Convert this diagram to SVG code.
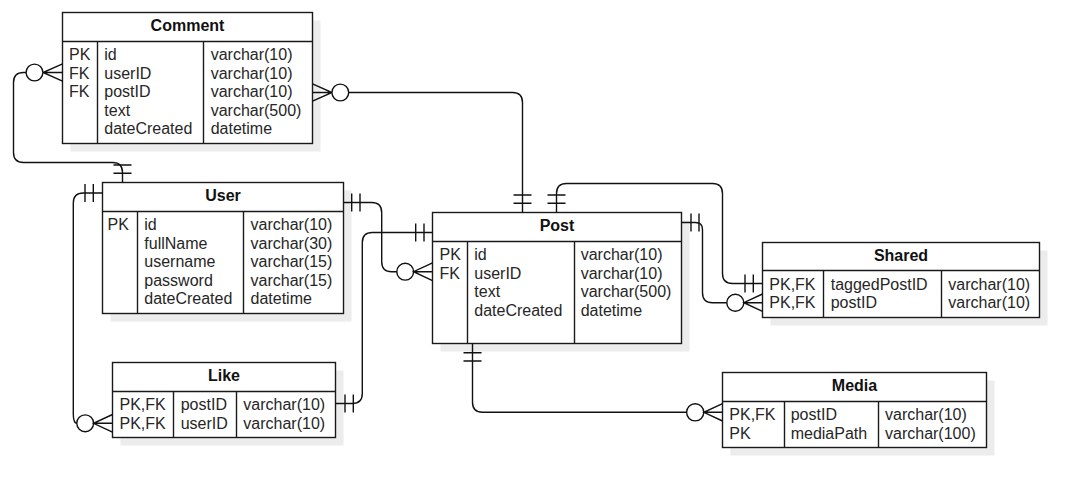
<svg xmlns="http://www.w3.org/2000/svg" width="1088" height="497" viewBox="0 0 1088 497">
  <style>
    .shadow { fill: #ececec; stroke: none; }
    .box { fill: #ffffff; stroke: #1a1a1a; stroke-width: 1.4; }
    .sep { stroke: #1a1a1a; stroke-width: 1.4; }
    .title { font-family: "Liberation Sans", Arial, sans-serif; font-size: 16px; font-weight: bold; fill: #111111; text-anchor: middle; }
    .cell { font-family: "Liberation Sans", Arial, sans-serif; font-size: 16px; fill: #262626; }
    .conn { fill: none; stroke: #111111; stroke-width: 1.4; }
    .ring { fill: #ffffff; stroke: #111111; stroke-width: 1.4; }
  </style>
  <rect width="1088" height="497" fill="#ffffff"/>

  <!-- Comment table -->
  <g id="comment">
    <rect class="shadow" x="70.5" y="20.5" width="250" height="131"/>
    <rect class="box" x="62.5" y="12.5" width="250" height="131"/>
    <line class="sep" x1="62.5" y1="41.5" x2="312.5" y2="41.5"/>
    <line class="sep" x1="97.5" y1="41.5" x2="97.5" y2="143.5"/>
    <line class="sep" x1="203.5" y1="41.5" x2="203.5" y2="143.5"/>
    <text class="title" x="187.5" y="31">Comment</text>
    <text class="cell" x="69" y="60">PK</text>
    <text class="cell" x="69" y="78.6">FK</text>
    <text class="cell" x="69" y="97.2">FK</text>
    <text class="cell" x="104.3" y="60">id</text>
    <text class="cell" x="104.3" y="78.6">userID</text>
    <text class="cell" x="104.3" y="97.2">postID</text>
    <text class="cell" x="104.3" y="115.8">text</text>
    <text class="cell" x="104.3" y="134.4">dateCreated</text>
    <text class="cell" x="210.7" y="60">varchar(10)</text>
    <text class="cell" x="210.7" y="78.6">varchar(10)</text>
    <text class="cell" x="210.7" y="97.2">varchar(10)</text>
    <text class="cell" x="210.7" y="115.8">varchar(500)</text>
    <text class="cell" x="210.7" y="134.4">datetime</text>
  </g>

  <!-- User table -->
  <g id="user">
    <rect class="shadow" x="110.5" y="190.5" width="241" height="131"/>
    <rect class="box" x="102.5" y="182.5" width="241" height="131"/>
    <line class="sep" x1="102.5" y1="211.5" x2="343.5" y2="211.5"/>
    <line class="sep" x1="137.5" y1="211.5" x2="137.5" y2="313.5"/>
    <line class="sep" x1="243.5" y1="211.5" x2="243.5" y2="313.5"/>
    <text class="title" x="223" y="201">User</text>
    <text class="cell" x="107.5" y="230">PK</text>
    <text class="cell" x="144.3" y="230">id</text>
    <text class="cell" x="144.3" y="248.6">fullName</text>
    <text class="cell" x="144.3" y="267.2">username</text>
    <text class="cell" x="144.3" y="285.8">password</text>
    <text class="cell" x="144.3" y="304.4">dateCreated</text>
    <text class="cell" x="250.5" y="230">varchar(10)</text>
    <text class="cell" x="250.5" y="248.6">varchar(30)</text>
    <text class="cell" x="250.5" y="267.2">varchar(15)</text>
    <text class="cell" x="250.5" y="285.8">varchar(15)</text>
    <text class="cell" x="250.5" y="304.4">datetime</text>
  </g>

  <!-- Post table -->
  <g id="post">
    <rect class="shadow" x="440.5" y="220.5" width="249" height="131"/>
    <rect class="box" x="432.5" y="212.5" width="249" height="131"/>
    <line class="sep" x1="432.5" y1="241.5" x2="681.5" y2="241.5"/>
    <line class="sep" x1="467.5" y1="241.5" x2="467.5" y2="343.5"/>
    <line class="sep" x1="574.5" y1="241.5" x2="574.5" y2="343.5"/>
    <text class="title" x="557" y="231.2">Post</text>
    <text class="cell" x="439.5" y="260">PK</text>
    <text class="cell" x="439.5" y="278.6">FK</text>
    <text class="cell" x="474.3" y="260">id</text>
    <text class="cell" x="474.3" y="278.6">userID</text>
    <text class="cell" x="474.3" y="297.2">text</text>
    <text class="cell" x="474.3" y="315.8">dateCreated</text>
    <text class="cell" x="580.7" y="260">varchar(10)</text>
    <text class="cell" x="580.7" y="278.6">varchar(10)</text>
    <text class="cell" x="580.7" y="297.2">varchar(500)</text>
    <text class="cell" x="580.7" y="315.8">datetime</text>
  </g>

  <!-- Shared table -->
  <g id="shared">
    <rect class="shadow" x="770.5" y="250.5" width="277" height="75"/>
    <rect class="box" x="762.5" y="242.5" width="277" height="75"/>
    <line class="sep" x1="762.5" y1="270.5" x2="1039.5" y2="270.5"/>
    <line class="sep" x1="823.5" y1="270.5" x2="823.5" y2="317.5"/>
    <line class="sep" x1="941.5" y1="270.5" x2="941.5" y2="317.5"/>
    <text class="title" x="901" y="260.7">Shared</text>
    <text class="cell" x="769.3" y="289.6">PK,FK</text>
    <text class="cell" x="769.3" y="308.2">PK,FK</text>
    <text class="cell" x="830.7" y="289.6">taggedPostID</text>
    <text class="cell" x="830.7" y="308.2">postID</text>
    <text class="cell" x="948.3" y="289.6">varchar(10)</text>
    <text class="cell" x="948.3" y="308.2">varchar(10)</text>
  </g>

  <!-- Like table -->
  <g id="like">
    <rect class="shadow" x="120.5" y="370.5" width="223" height="75"/>
    <rect class="box" x="112.5" y="362.5" width="223" height="75"/>
    <line class="sep" x1="112.5" y1="391.5" x2="335.5" y2="391.5"/>
    <line class="sep" x1="173.5" y1="391.5" x2="173.5" y2="437.5"/>
    <line class="sep" x1="236.5" y1="391.5" x2="236.5" y2="437.5"/>
    <text class="title" x="224" y="381.2">Like</text>
    <text class="cell" x="119.5" y="410">PK,FK</text>
    <text class="cell" x="119.5" y="428.6">PK,FK</text>
    <text class="cell" x="180.7" y="410">postID</text>
    <text class="cell" x="180.7" y="428.6">userID</text>
    <text class="cell" x="243.3" y="410">varchar(10)</text>
    <text class="cell" x="243.3" y="428.6">varchar(10)</text>
  </g>

  <!-- Media table -->
  <g id="media">
    <rect class="shadow" x="730.5" y="380.5" width="264" height="75"/>
    <rect class="box" x="722.5" y="372.5" width="264" height="75"/>
    <line class="sep" x1="722.5" y1="401.5" x2="986.5" y2="401.5"/>
    <line class="sep" x1="784.5" y1="401.5" x2="784.5" y2="447.5"/>
    <line class="sep" x1="878.5" y1="401.5" x2="878.5" y2="447.5"/>
    <text class="title" x="854.5" y="391">Media</text>
    <text class="cell" x="729.3" y="420.4">PK,FK</text>
    <text class="cell" x="729.3" y="439">PK</text>
    <text class="cell" x="790.7" y="420.4">postID</text>
    <text class="cell" x="790.7" y="439">mediaPath</text>
    <text class="cell" x="885" y="420.4">varchar(10)</text>
    <text class="cell" x="885" y="439">varchar(100)</text>
  </g>

  <!-- Relationships: crow's foot notation -->
  <g id="connectors">
    <!-- Comment.userID (zero or many) to User (one and only one) -->
    <g id="rel-comment-user">
      <path class="conn" d="M26,72.5 H23.5 Q13.5,72.5 13.5,82.5 V152.5 Q13.5,162.5 23.5,162.5 H112.5 Q122.5,162.5 122.5,172.5 V182.5"/>
      <path class="conn" d="M62.5,63.8 L43,72.5 L62.5,81.2 M43,72.5 H62.5"/>
      <circle class="ring" cx="34.5" cy="72.5" r="8.4"/>
      <path class="conn" d="M113.5,165 H131.5 M113.5,173.3 H131.5"/>
    </g>

    <!-- Comment.postID (zero or many) to Post (one and only one) -->
    <g id="rel-comment-post">
      <path class="conn" d="M348.5,92.5 H512.5 Q522.5,92.5 522.5,102.5 V212.5"/>
      <path class="conn" d="M312.5,83.8 L332,92.5 L312.5,101.2 M332,92.5 H312.5"/>
      <circle class="ring" cx="340.3" cy="92.5" r="8.4"/>
      <path class="conn" d="M513.5,195 H531.5 M513.5,203.3 H531.5"/>
    </g>

    <!-- Post (one and only one) to Shared.taggedPostID (one and only one) -->
    <g id="rel-post-shared-tagged">
      <path class="conn" d="M556.5,212.5 V193.5 Q556.5,183.5 566.5,183.5 H712.5 Q722.5,183.5 722.5,193.5 V273.5 Q722.5,283.5 732.5,283.5 H762.5"/>
      <path class="conn" d="M547.5,195 H565.5 M547.5,203.3 H565.5"/>
      <path class="conn" d="M745,274.5 V292.5 M753.3,274.5 V292.5"/>
    </g>

    <!-- Post (one and only one) to Shared.postID (zero or many) -->
    <g id="rel-post-shared">
      <path class="conn" d="M681.5,222.5 H695.5 Q702.5,222.5 702.5,229.5 V292.7 Q702.5,302.7 712.5,302.7 H727"/>
      <path class="conn" d="M691,213.5 V231.5 M699,213.5 V231.5"/>
      <circle class="ring" cx="735.3" cy="302.7" r="8.5"/>
      <path class="conn" d="M762.5,294 L743.8,302.7 L762.5,311.4 M743.8,302.7 H762.5"/>
    </g>

    <!-- User (one and only one) to Post.userID (zero or many) -->
    <g id="rel-user-post">
      <path class="conn" d="M343.5,202.5 H371.7 Q381.7,202.5 381.7,212.5 V261.7 Q381.7,271.7 391.7,271.7 H397"/>
      <path class="conn" d="M351.7,193.5 V211.5 M360,193.5 V211.5"/>
      <circle class="ring" cx="405.2" cy="271.7" r="8.4"/>
      <path class="conn" d="M432.5,262.8 L413.5,271.7 L432.5,280.6 M413.5,271.7 H432.5"/>
    </g>

    <!-- Like.postID (one and only one) to Post (one and only one) -->
    <g id="rel-like-post">
      <path class="conn" d="M335.5,403.5 H352.3 Q362.3,403.5 362.3,393.5 V242.5 Q362.3,232.5 372.3,232.5 H432.5"/>
      <path class="conn" d="M345,394.5 V412.5 M353.3,394.5 V412.5"/>
      <path class="conn" d="M415.7,223.5 V241.5 M424,223.5 V241.5"/>
    </g>

    <!-- User (one and only one) to Like.userID (zero or many) -->
    <g id="rel-user-like">
      <path class="conn" d="M102.5,193 H83.3 Q73.3,193 73.3,203 V414 Q73.3,423.3 77,423.3"/>
      <path class="conn" d="M85,184 V202 M93.3,184 V202"/>
      <circle class="ring" cx="85.2" cy="423.3" r="8.4"/>
      <path class="conn" d="M112.5,414.5 L93.5,423.3 L112.5,432.1 M93.5,423.3 H112.5"/>
    </g>

    <!-- Post (one and only one) to Media.postID (zero or many) -->
    <g id="rel-post-media">
      <path class="conn" d="M472.5,343.5 V402.3 Q472.5,412.3 482.5,412.3 H686.5"/>
      <path class="conn" d="M463.5,352.7 H481.5 M463.5,361 H481.5"/>
      <circle class="ring" cx="695.2" cy="412.3" r="8.6"/>
      <path class="conn" d="M722.5,403.6 L703.8,412.3 L722.5,421 M703.8,412.3 H722.5"/>
    </g>
  </g>
</svg>
